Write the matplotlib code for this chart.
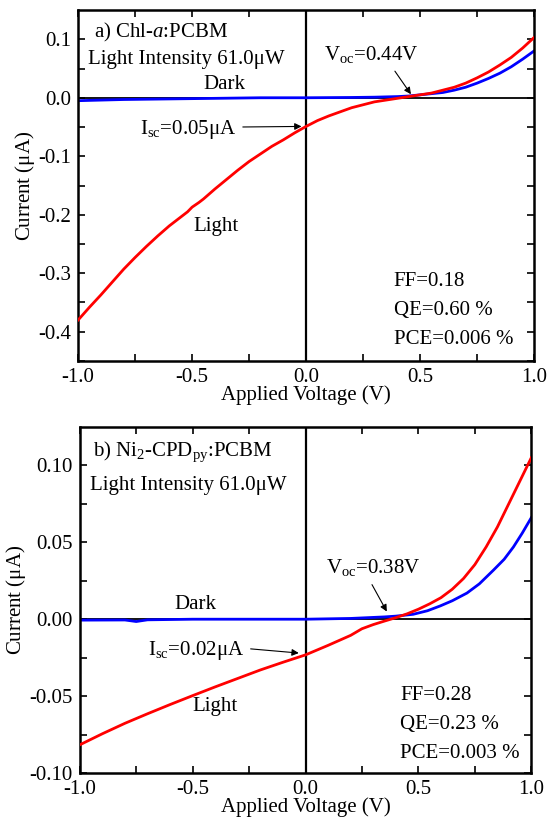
import numpy as np
import matplotlib.pyplot as plt

### Data
# panel a) Chl-a:PCBM
va_light = [-1.0, -0.95, -0.90, -0.85, -0.80, -0.75, -0.70, -0.65, -0.60, -0.55, -0.52, -0.50, -0.47,
            -0.45, -0.40, -0.35, -0.30, -0.25, -0.20, -0.15, -0.10, -0.05, 0.0, 0.05, 0.10, 0.15, 0.20,
            0.25, 0.30, 0.35, 0.40, 0.45, 0.50, 0.55, 0.60, 0.65, 0.70, 0.75, 0.80, 0.85, 0.90, 0.95, 1.0]
ia_light = [-0.380, -0.358, -0.337, -0.315, -0.293, -0.273, -0.254, -0.236, -0.219, -0.204, -0.195, -0.187,
            -0.179, -0.173, -0.156, -0.140, -0.124, -0.109, -0.096, -0.083, -0.072, -0.060, -0.049, -0.039,
            -0.031, -0.024, -0.017, -0.012, -0.007, -0.004, -0.001, 0.002, 0.005, 0.008, 0.013, 0.018,
            0.025, 0.034, 0.044, 0.056, 0.069, 0.085, 0.103]
va_dark = [-1.0, -0.9, -0.8, -0.6, -0.4, -0.2, 0.0, 0.2, 0.3, 0.4, 0.45, 0.50, 0.55, 0.60, 0.65, 0.70,
           0.75, 0.80, 0.85, 0.90, 0.95, 1.0]
ia_dark = [-0.005, -0.004, -0.003, -0.002, -0.001, 0.0, 0.0, 0.0005, 0.001, 0.002, 0.003, 0.005, 0.007,
           0.009, 0.013, 0.018, 0.025, 0.033, 0.042, 0.053, 0.066, 0.080]

# panel b) Ni2-CPDpy:PCBM
vb_light = [-1.0, -0.9, -0.8, -0.7, -0.6, -0.5, -0.4, -0.3, -0.2, -0.1, 0.0, 0.1, 0.2, 0.25, 0.30,
            0.35, 0.40, 0.45, 0.50, 0.55, 0.60, 0.65, 0.70, 0.75, 0.80, 0.85, 0.90, 0.95, 1.0]
ib_light = [-0.0817, -0.0745, -0.0677, -0.0615, -0.0555, -0.0497, -0.0440, -0.0385, -0.0330, -0.0280,
            -0.0232, -0.0170, -0.0105, -0.0062, -0.0035, -0.0012, 0.0010, 0.0035, 0.0065, 0.0100, 0.0140,
            0.0195, 0.0265, 0.0355, 0.0470, 0.0600, 0.0750, 0.0900, 0.1050]
vb_dark = [-1.0, -0.8, -0.75, -0.70, -0.5, 0.0, 0.2, 0.35, 0.40, 0.477, 0.54, 0.596, 0.65, 0.715,
           0.77, 0.833, 0.88, 0.921, 0.96, 1.0]
ib_dark = [-0.0006, -0.0005, -0.0015, -0.0004, 0.0, 0.0, 0.0005, 0.0015, 0.002, 0.0032, 0.0055, 0.0086,
           0.012, 0.017, 0.023, 0.032, 0.039, 0.047, 0.056, 0.066]

### Plot settings
plt.rcParams['font.family'] = ['Liberation Serif', 'DejaVu Serif']
plt.rcParams['mathtext.fontset'] = 'custom'
plt.rcParams['mathtext.rm'] = 'Liberation Serif'
plt.rcParams['mathtext.it'] = 'Liberation Serif:italic'
textsize = 15
lw = 2.0
c_light, c_dark = 'red', 'blue'

fig = plt.figure(figsize=[5.54, 8.21], dpi=100)
ax1 = fig.add_axes([0.141, 0.5603, 0.823, 0.4275])
ax2 = fig.add_axes([0.144, 0.0585, 0.815, 0.4214])


def style(ax, ylim, major, minor, fmt):
    ax.axhline(0, color='k', lw=1.3, zorder=1)
    ax.axvline(0, color='k', lw=1.6, zorder=1)
    ax.set_xlim(-1, 1)
    ax.set_ylim(*ylim)
    ax.set_xticks([-1, -0.5, 0, 0.5, 1])
    ax.set_xticklabels(['-1.0', '-0.5', '0.0', '0.5', '1.0'])
    ax.set_xticks(np.arange(-0.75, 1, 0.5), minor=True)
    ax.set_yticks(major)
    ax.set_yticklabels([fmt % v if abs(v) > 1e-9 else fmt % 0 for v in major])
    ax.set_yticks(minor, minor=True)
    ax.tick_params(which='both', direction='in', top=True, right=True, width=1.2,
                   labelsize=textsize, pad=5, length=5)
    for s in ax.spines.values():
        s.set_linewidth(1.8)
    ax.set_xlabel('Applied Voltage (V)', fontsize=textsize, labelpad=-1)
    ax.set_ylabel(r'Current ($\mathrm{\mu}$A)', fontsize=textsize, labelpad=1)


arrow = dict(arrowstyle='-|>', color='k', lw=0.8, shrinkA=0, shrinkB=0, mutation_scale=10)

### Panel a
ax1.plot(va_light, ia_light, color=c_light, lw=lw, zorder=3)
ax1.plot(va_dark, ia_dark, color=c_dark, lw=lw, zorder=2)
style(ax1, (-0.45, 0.15), [-0.4, -0.3, -0.2, -0.1, 0.0, 0.1],
      np.arange(-0.45, 0.15, 0.1), '%.1f')
ax1.text(-0.93, 0.112, r'a) Chl-$a$:PCBM', fontsize=textsize, va='center')
ax1.text(-0.955, 0.066, 'Light Intensity 61.0μW', fontsize=textsize, va='center')
ax1.text(-0.357, 0.023, 'Dark', fontsize=textsize, va='center', ha='center')
ax1.text(-0.394, -0.22, 'Light', fontsize=textsize, va='center', ha='center')
ax1.annotate(r'I$_{\mathrm{sc}}$=0.05μA', xy=(-0.02, -0.049), xytext=(-0.73, -0.054),
             fontsize=textsize, va='center', arrowprops=dict(arrow, relpos=(1.0, 0.6), shrinkA=3))
ax1.annotate(r'V$_{\mathrm{oc}}$=0.44V', xy=(0.46, 0.006), xytext=(0.08, 0.074),
             fontsize=textsize, va='center', arrowprops=dict(arrow, relpos=(0.7, 0.0), shrinkA=3))
ax1.text(0.385, -0.314, 'FF=0.18', fontsize=textsize, va='center')
ax1.text(0.385, -0.364, 'QE=0.60 %', fontsize=textsize, va='center')
ax1.text(0.385, -0.413, 'PCE=0.006 %', fontsize=textsize, va='center')

### Panel b
ax2.plot(vb_light, ib_light, color=c_light, lw=lw, zorder=3)
ax2.plot(vb_dark, ib_dark, color=c_dark, lw=lw, zorder=2)
style(ax2, (-0.10, 0.125), [-0.10, -0.05, 0.0, 0.05, 0.10],
      np.arange(-0.075, 0.125, 0.05), '%.2f')
ax2.text(-0.94, 0.1086, r'b) Ni$_2$-CPD$_{\mathrm{py}}$:PCBM', fontsize=textsize, va='center')
ax2.text(-0.955, 0.087, 'Light Intensity 61.0μW', fontsize=textsize, va='center')
ax2.text(-0.486, 0.0097, 'Dark', fontsize=textsize, va='center', ha='center')
ax2.text(-0.40, -0.057, 'Light', fontsize=textsize, va='center', ha='center')
ax2.annotate(r'I$_{\mathrm{sc}}$=0.02μA', xy=(-0.03, -0.022), xytext=(-0.70, -0.0204),
             fontsize=textsize, va='center', arrowprops=dict(arrow, relpos=(1.0, 0.6), shrinkA=3))
ax2.annotate(r'V$_{\mathrm{oc}}$=0.38V', xy=(0.36, 0.005), xytext=(0.09, 0.0335),
             fontsize=textsize, va='center', arrowprops=dict(arrow, relpos=(0.45, 0.0), shrinkA=3))
ax2.text(0.42, -0.0497, 'FF=0.28', fontsize=textsize, va='center')
ax2.text(0.42, -0.0684, 'QE=0.23 %', fontsize=textsize, va='center')
ax2.text(0.42, -0.0875, 'PCE=0.003 %', fontsize=textsize, va='center')

plt.savefig('out.png', dpi=100)
